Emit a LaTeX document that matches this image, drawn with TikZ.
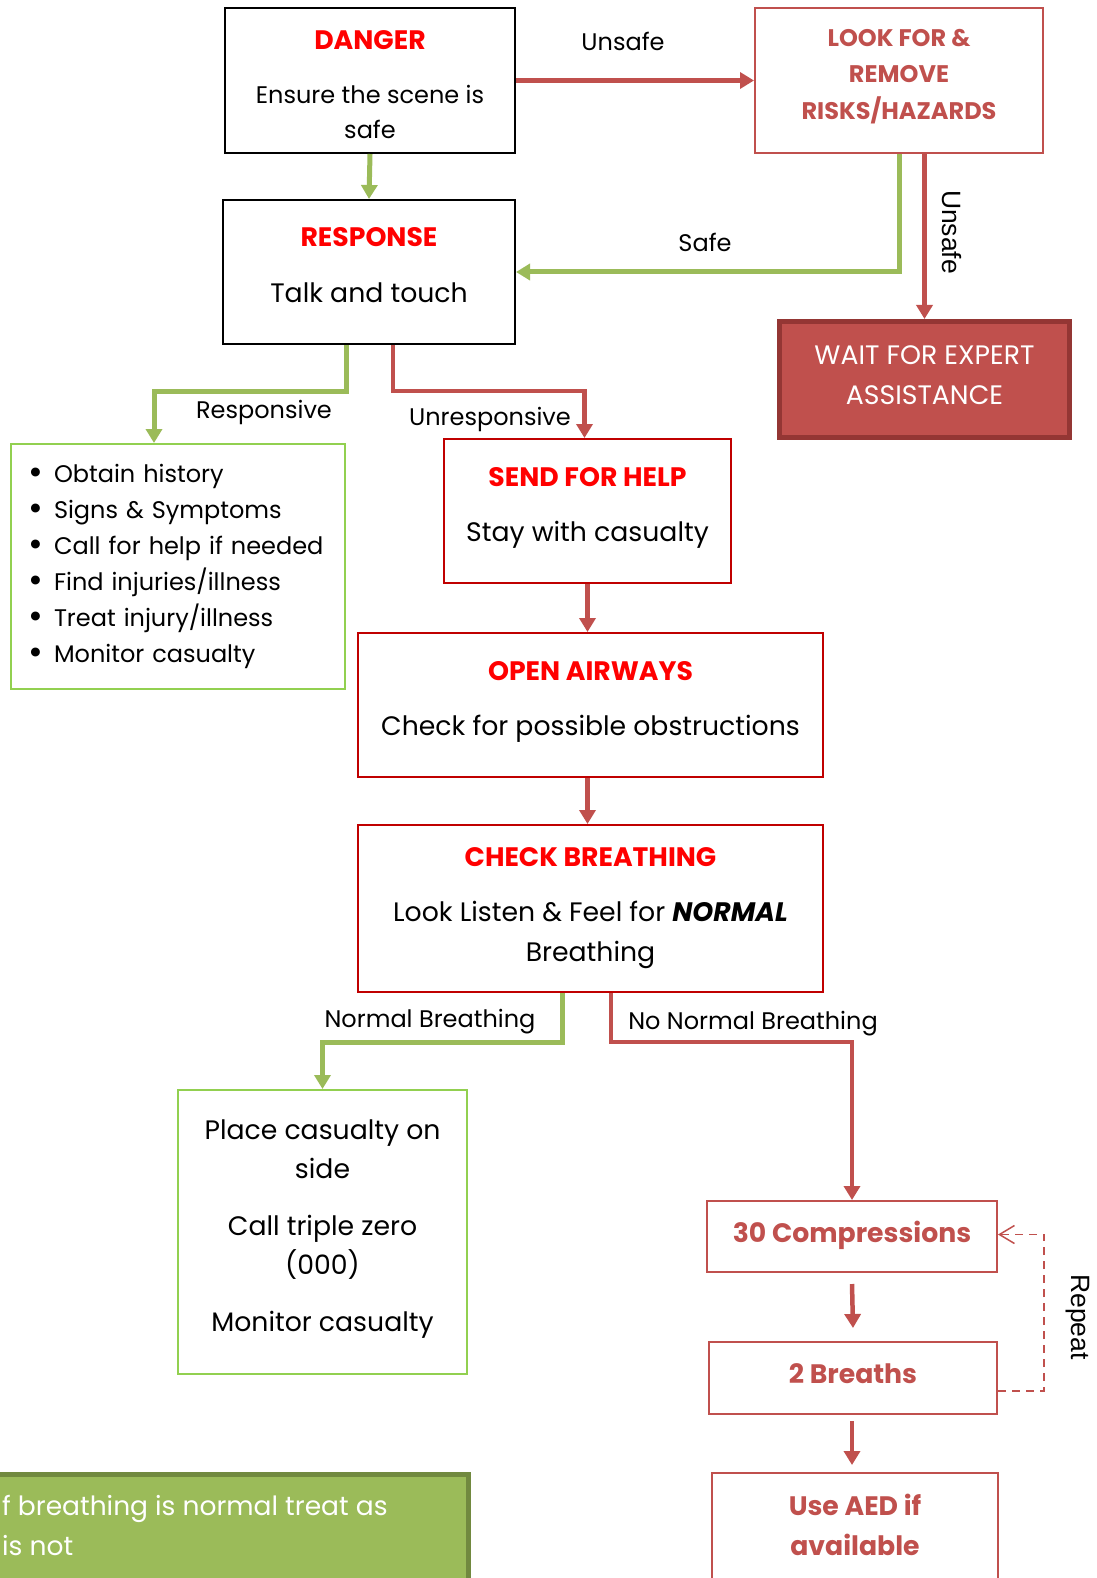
\documentclass[tikz,border=0pt]{standalone}
\usepackage{fontspec}
\usepackage{graphicx}
\setmainfont{Poppins}
\newfontfamily\arialfont{Liberation Sans}
\usetikzlibrary{arrows.meta}
\definecolor{tred}{HTML}{FF0000}
\definecolor{bred}{HTML}{C00000}
\definecolor{ared}{HTML}{C0504D}
\definecolor{dred}{HTML}{943634}
\definecolor{agreen}{HTML}{9BBB59}
\definecolor{bgreen}{HTML}{92D050}
\definecolor{dgreen}{HTML}{71893F}
\newcommand\ttl[1]{{\fontsize{26.7}{35}\selectfont\bfseries\color{tred}#1}}
\newcommand\bul{\makebox[26pt][l]{\raisebox{-1.5pt}{\scalebox{1.5}{•}}}}
\newcommand\topst[1]{\rule{0pt}{#1pt}}
\newcommand\botst[1]{\rule[-#1pt]{0pt}{#1pt}}
\begin{document}
\begin{tikzpicture}[x=1pt,y=-1pt,
  every node/.style={font=\fontsize{24}{37}\selectfont, inner sep=0pt},
  blackbox/.style={draw=black, line width=2pt, align=center},
  redbox/.style={draw=bred, line width=2pt, align=center},
  lredbox/.style={draw=ared, line width=2pt, align=center, text=ared},
  greenbox/.style={draw=bgreen, line width=2pt},
  waitbox/.style={draw=dred, fill=ared, line width=5pt, text=white, align=center, font=\fontsize{26.7}{40}\selectfont},
  notebox/.style={draw=dgreen, fill=agreen, line width=5pt},
  redarrow/.style={draw=ared, line width=4.5pt, -{Triangle[width=16pt,length=14pt]}},
  greenarrow/.style={draw=agreen, line width=5pt, -{Triangle[width=16pt,length=14pt]}},
  repeatarrow/.style={draw=ared, line width=1.5pt, dash pattern=on 8pt off 6pt, -{Straight Barb[length=15pt,width=18pt]}},
  lbl/.style={font=\fontsize{24}{28}\selectfont},
  vlbl/.style={font=\arialfont\fontsize{26.5}{28}\selectfont, rotate=-90},
  bigbold/.style={font=\fontsize{26.7}{40}\selectfont\bfseries},
]
\clip (0,0) rectangle (1096,1578);

% boxes
\node[blackbox, minimum width=290pt, minimum height=145pt, font=\fontsize{24}{35}\selectfont] (danger) at (370,80.5)
  {\topst{35}\ttl{DANGER}\\[18.3pt]Ensure the scene is\\safe\botst{7.7}};
\node[blackbox, minimum width=292pt, minimum height=144pt, font=\fontsize{26.7}{37}\selectfont] (response) at (369,272)
  {\topst{30}\ttl{RESPONSE}\\[19pt]Talk and touch\botst{24.6}};
\node[lredbox, minimum width=288pt, minimum height=145pt, font=\fontsize{24}{36.3}\selectfont\bfseries] (look) at (899,80.5)
  {\topst{25}LOOK FOR \&\\REMOVE\\RISKS/HAZARDS\botst{20.3}};
\node[waitbox, minimum width=290pt, minimum height=116pt] (wait) at (924.5,379.5)
  {\topst{28}WAIT FOR EXPERT\\ASSISTANCE\botst{18.4}};
\node[greenbox, minimum width=334pt, minimum height=245pt, text width=300pt, align=left, font=\fontsize{24}{36}\selectfont] (list) at (178,566.5)
  {\bul Obtain history\\\bul Signs \& Symptoms\\\bul Call for help if needed\\\bul Find injuries/illness\\\bul Treat injury/illness\\\bul Monitor casualty};
\node[redbox, minimum width=287pt, minimum height=144pt, font=\fontsize{26.7}{37}\selectfont] (send) at (587.5,511)
  {\topst{30}\ttl{SEND FOR HELP}\\[18.7pt]Stay with casualty\botst{24.3}};
\node[redbox, minimum width=465pt, minimum height=144pt, font=\fontsize{26.7}{37}\selectfont] (open) at (590.5,705)
  {\topst{30}\ttl{OPEN AIRWAYS}\\[18pt]Check for possible obstructions\botst{25}};
\node[redbox, minimum width=465pt, minimum height=167pt, font=\fontsize{26.7}{40}\selectfont] (check) at (590.5,908.5)
  {\topst{30}\ttl{CHECK BREATHING}\\[15pt]Look Listen \& Feel for \textbf{\textit{NORMAL}}\\Breathing\botst{18.6}};
\node[greenbox, minimum width=289pt, minimum height=284pt, align=center, font=\fontsize{26.7}{39.5}\selectfont] (place) at (322.5,1232)
  {\topst{30}Place casualty on\\side\\[17pt]Call triple zero\\(000)\\[17pt]Monitor casualty\botst{23.4}};
\node[lredbox, bigbold, minimum width=290pt, minimum height=71pt] (comp) at (852,1236.5) {\topst{25}30 Compressions\botst{13.4}};
\node[lredbox, bigbold, minimum width=288pt, minimum height=72pt] (breaths) at (853,1378) {\topst{25}2 Breaths\botst{14.4}};
\node[lredbox, bigbold, minimum width=286pt, minimum height=108pt] (aed) at (855,1527) {\topst{30}Use AED if\\available\botst{14}};
\node[notebox, minimum width=490pt, minimum height=140pt, anchor=north west] (note) at (-24,1472) {};
\node[anchor=west, text=white, align=left, font=\fontsize{26.5}{40}\selectfont] (notetext) at (2,1530)
  {\topst{25}f breathing is normal treat as\\is not\botst{15}};

% connectors
\draw[greenarrow] (danger.south) -- (response.north);
\draw[redarrow] (danger.east) -- (look.west);
\draw[greenarrow] (look.south) |- (response.east);
\draw[redarrow] (look.south -| wait.north) -- (wait.north);
\draw[greenarrow] ([xshift=-23pt]response.south) -- ++(0,46) -| ([xshift=-24pt]list.north);
\draw[redarrow] ([xshift=24pt]response.south) -- ++(0,46) -| ([xshift=-3pt]send.north);
\draw[redarrow] (send.south) -- (send.south |- open.north);
\draw[redarrow] (open.south -| send.south) -- (check.north -| send.south);
\draw[greenarrow] ([xshift=-28.5pt]check.south) -- ++(0,49) -| (place.north);
\draw[redarrow] ([xshift=20.5pt]check.south) -- ++(0,49) -| (comp.north);
\draw[redarrow] ([yshift=-11pt]comp.south) -- ([yshift=13pt]breaths.north);
\draw[redarrow] ([yshift=-6pt]breaths.south -| 852,0) -- ([yshift=7pt]aed.north -| 852,0);
\draw[repeatarrow] ([yshift=-13pt]breaths.east) -- ++(46,0) |- ([yshift=2pt]comp.east);

% labels
\node[lbl] (lunsafe) at (623,41) {Unsafe};
\node[lbl] (lsafe) at (705,242) {Safe};
\node[vlbl] (lunsafe2) at (952,232) {Unsafe};
\node[lbl] (lresp) at (264,412) {Responsive};
\node[lbl] (lunresp) at (490,419) {Unresponsive};
\node[lbl] (lnormal) at (430,1022) {Normal Breathing};
\node[lbl] (lnonormal) at (753,1024) {No Normal Breathing};
\node[vlbl] (lrepeat) at (1078,1317) {Repeat};
\end{tikzpicture}
\end{document}
